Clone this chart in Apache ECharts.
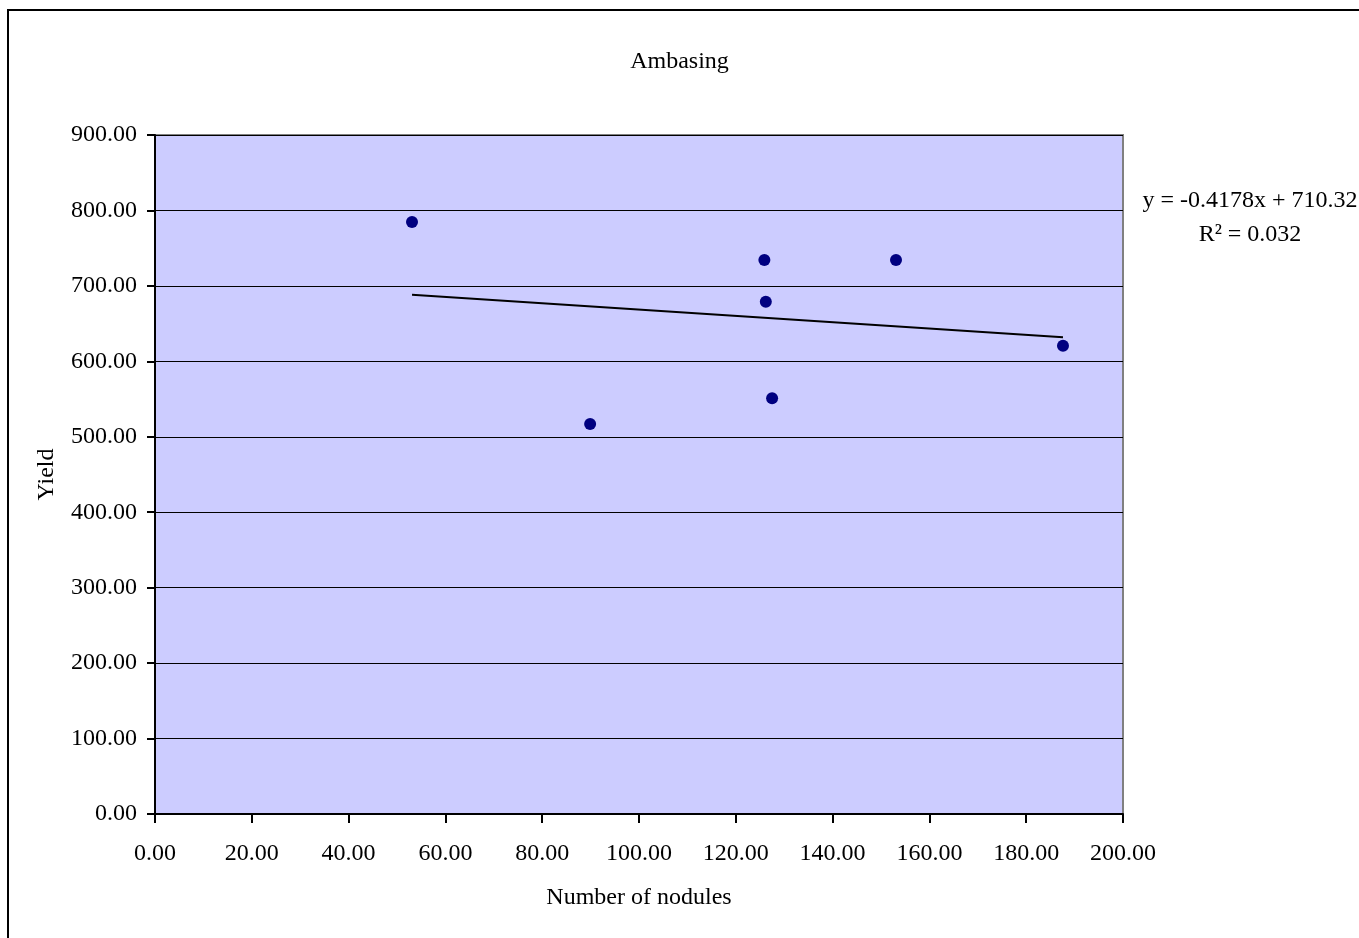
<!DOCTYPE html>
<html>
<head>
<meta charset="utf-8">
<script src="https://cdn.jsdelivr.net/npm/echarts@6/dist/echarts.min.js"></script>
<style>
html,body{margin:0;padding:0;background:#fff;}
#chart{width:1359px;height:938px;}
</style>
</head>
<body>
<div id="chart"></div>
<script>
// Data
var nodules = [53.1, 89.9, 125.9, 126.2, 127.5, 153.1, 187.6];
var yieldVals = [784.7, 517.0, 734.4, 679.1, 551.0, 734.4, 620.8];
var xTicks = [0, 20, 40, 60, 80, 100, 120, 140, 160, 180, 200];
var yTicks = [0, 100, 200, 300, 400, 500, 600, 700, 800, 900];
var trendSlope = -0.4178;
var trendIntercept = 710.32;
var equationText = 'y = -0.4178x + 710.32';
var r2Text = 'R² = 0.032';

var FONT = 'Liberation Serif';
var xMinData = Math.min.apply(null, nodules);
var xMaxData = Math.max.apply(null, nodules);
var trendData = [
  [xMinData, trendSlope * xMinData + trendIntercept],
  [xMaxData, trendSlope * xMaxData + trendIntercept]
];
var scatterData = nodules.map(function (x, i) { return [x, yieldVals[i]]; });

var chart = echarts.init(document.getElementById('chart'), null, {renderer: 'canvas'});
chart.setOption({
  animation: false,
  backgroundColor: '#ffffff',
  title: {
    text: 'Ambasing',
    left: 'center',
    top: 45,
    textStyle: {fontFamily: FONT, fontSize: 24, fontWeight: 'normal', color: '#000'}
  },
  grid: {
    left: 155, top: 135, right: 236, bottom: 124,
    show: true,
    backgroundColor: '#CCCCFF',
    borderColor: '#808080',
    borderWidth: 2
  },
  xAxis: {
    type: 'value',
    min: xTicks[0], max: xTicks[xTicks.length - 1], interval: 20,
    name: 'Number of nodules',
    nameLocation: 'middle',
    nameGap: 72,
    nameTextStyle: {fontFamily: FONT, fontSize: 24, color: '#000'},
    axisLine: {show: true, onZero: false, lineStyle: {color: '#000', width: 2}},
    axisTick: {show: true, inside: false, length: 9, lineStyle: {color: '#000', width: 2}},
    axisLabel: {
      margin: 28,
      fontFamily: FONT, fontSize: 24, color: '#000',
      formatter: function (v) { return v.toFixed(2); }
    },
    splitLine: {show: false}
  },
  yAxis: {
    type: 'value',
    min: yTicks[0], max: yTicks[yTicks.length - 1], interval: 100,
    name: 'Yield',
    nameLocation: 'middle',
    nameGap: 96,
    nameTextStyle: {fontFamily: FONT, fontSize: 24, color: '#000'},
    axisLine: {show: true, onZero: false, lineStyle: {color: '#000', width: 2}},
    axisTick: {show: true, inside: false, length: 8, lineStyle: {color: '#000', width: 2}},
    axisLabel: {
      margin: 18,
      fontFamily: FONT, fontSize: 24, color: '#000',
      formatter: function (v) { return v.toFixed(2); }
    },
    splitLine: {show: true, lineStyle: {color: '#000', width: 1}}
  },
  series: [
    {
      type: 'scatter',
      data: scatterData,
      symbol: 'circle',
      symbolSize: 12,
      itemStyle: {color: '#000080', opacity: 1},
      z: 3
    },
    {
      type: 'line',
      data: trendData,
      symbol: 'none',
      lineStyle: {color: '#000', width: 2},
      z: 2
    }
  ],
  graphic: [
    {
      type: 'rect',
      shape: {x: 8, y: 10, width: 1420, height: 1000},
      style: {fill: 'none', stroke: '#000', lineWidth: 2},
      silent: true,
      z: 100
    },
    {
      type: 'text',
      x: 1250, y: 201,
      style: {
        text: equationText,
        fontFamily: FONT, fontSize: 24, fill: '#000',
        textAlign: 'center', textVerticalAlign: 'middle'
      },
      z: 100
    },
    {
      type: 'text',
      x: 1250, y: 235,
      style: {
        text: r2Text,
        fontFamily: FONT, fontSize: 24, fill: '#000',
        textAlign: 'center', textVerticalAlign: 'middle'
      },
      z: 100
    }
  ]
});
</script>
</body>
</html>
